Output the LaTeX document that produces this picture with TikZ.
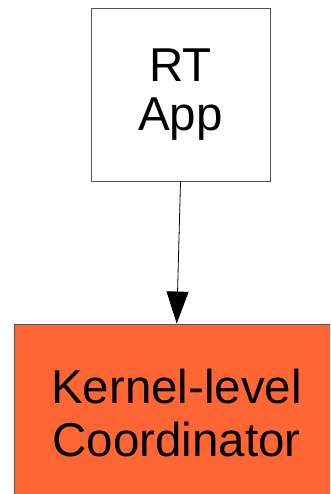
\documentclass[tikz,border=0pt]{standalone}
\usepackage{fontspec}
\setmainfont{Liberation Sans}
\usetikzlibrary{arrows.meta}
\definecolor{coordorange}{HTML}{FF6633}
\definecolor{edgegray}{HTML}{555555}
\tikzset{
  box/.style={draw=edgegray, line width=0.9pt, rectangle, align=center, inner sep=0pt},
  flow/.style={draw=black, line width=0.8pt, -{Triangle[length=32pt,width=22pt]}}
}
\begin{document}
\begin{tikzpicture}[x=1pt,y=-1pt]
  \useasboundingbox (0,0) rectangle (330,494);
  \begin{scope}
    \clip (0,0) rectangle (330,494);
    % application box
    \node[box, fill=white, minimum width=179pt, minimum height=173pt,
          font=\fontsize{47.5}{49}\selectfont] (app) at (180.5,94.5) {RT\\App};
    % coordinator box, running past the right and lower edges
    \node[box, fill=coordorange, minimum width=340pt, minimum height=178pt] (coord) at (184,413) {};
    \node[font=\fontsize{47.5}{53}\selectfont, align=center, inner sep=0pt] (coordtext) at (176.5,413) {Kernel-level\\Coordinator};
    \coordinate (tip) at (176.7,0 |- coord.north);
    \draw[flow] (app.south) -- (tip);
  \end{scope}
\end{tikzpicture}
\end{document}
